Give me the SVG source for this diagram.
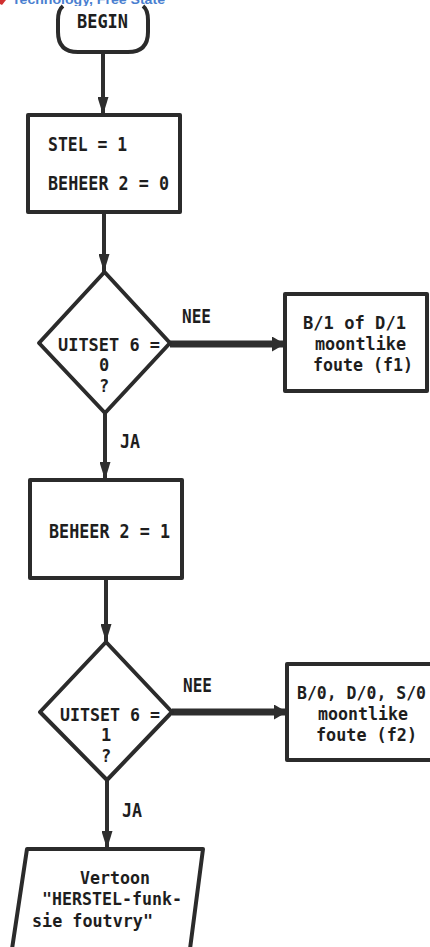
<svg xmlns="http://www.w3.org/2000/svg" width="430" height="947" viewBox="0 0 430 947">
<style>
  .shape { fill: #ffffff; stroke: #2b2b2b; stroke-width: 4; stroke-linejoin: round; }
  .conn { fill: none; stroke: #2e2e2e; stroke-width: 4; }
  .thick { fill: none; stroke: #2e2e2e; stroke-width: 7; }
  .t { font-family: "DejaVu Sans Mono", "Liberation Mono", monospace; font-weight: bold; fill: #1e1e1e; font-size: 20px; }
  .m { font-family: "DejaVu Sans Mono", "Liberation Mono", monospace; font-weight: bold; fill: #1e1e1e; font-size: 17px; }
  .s { font-family: "DejaVu Sans Mono", "Liberation Mono", monospace; font-weight: bold; fill: #1e1e1e; font-size: 19px; }
  .hdr { font-family: "Liberation Sans", Arial, sans-serif; font-weight: bold; fill: #4a7fd0; font-size: 13px; }
</style>
<defs>
  <marker id="av" markerUnits="userSpaceOnUse" markerWidth="18" markerHeight="11" refX="18" refY="5.5" orient="auto">
    <path d="M0,0 L18,5.5 L0,11 z" fill="#2e2e2e"/>
  </marker>
  <marker id="ah" markerUnits="userSpaceOnUse" markerWidth="13" markerHeight="15" refX="13" refY="7.5" orient="auto">
    <path d="M0,0 L13,7.5 L0,15 z" fill="#2e2e2e"/>
  </marker>
</defs>
<rect width="430" height="947" fill="#ffffff"/>

<g id="header">
  <path d="M0,0 L6,0 L2,5 L0,4 z" fill="#d03030"/>
  <text class="hdr" x="12" y="4" textLength="153" lengthAdjust="spacingAndGlyphs">Technology, Free State</text>
</g>

<g id="connectors">
  <line class="conn" x1="103" y1="52" x2="103" y2="115" marker-end="url(#av)"/>
  <line class="conn" x1="104" y1="212" x2="104" y2="272" marker-end="url(#av)"/>
  <line class="thick" x1="170" y1="344" x2="285" y2="344" marker-end="url(#ah)"/>
  <line class="conn" x1="105" y1="413" x2="105" y2="480" marker-end="url(#av)"/>
  <line class="conn" x1="106" y1="578" x2="106" y2="642" marker-end="url(#av)"/>
  <line class="thick" x1="172" y1="712" x2="287" y2="712" marker-end="url(#ah)"/>
  <line class="conn" x1="107" y1="780" x2="107" y2="849" marker-end="url(#av)"/>
  <text class="s" x="182" y="323" textLength="29" lengthAdjust="spacingAndGlyphs">NEE</text>
  <text class="s" x="120" y="448" textLength="20" lengthAdjust="spacingAndGlyphs">JA</text>
  <text class="s" x="183" y="692" textLength="29" lengthAdjust="spacingAndGlyphs">NEE</text>
  <text class="s" x="122" y="817" textLength="20" lengthAdjust="spacingAndGlyphs">JA</text>
</g>

<g id="begin">
  <path class="shape" d="M63,6 Q58,10 58,20 L58,32 Q58,52 78,52 L128,52 Q148,52 148,32 L148,20 Q148,10 143,6"/>
  <text class="t" x="77" y="28" textLength="51" lengthAdjust="spacingAndGlyphs">BEGIN</text>
</g>

<g id="stel">
  <rect class="shape" x="28" y="115" width="152" height="97"/>
  <text class="t" x="48" y="151" textLength="79" lengthAdjust="spacingAndGlyphs">STEL = 1</text>
  <text class="t" x="48" y="190" textLength="121" lengthAdjust="spacingAndGlyphs">BEHEER 2 = 0</text>
</g>

<g id="decision1">
  <polygon class="shape" points="104.5,272 170,343 105,413 39,343"/>
  <text class="m" x="58" y="351" textLength="102" lengthAdjust="spacingAndGlyphs">UITSET 6 =</text>
  <text class="m" x="104" y="371" text-anchor="middle">0</text>
  <text class="m" x="104" y="392" text-anchor="middle">?</text>
</g>

<g id="fault1">
  <rect class="shape" x="285" y="294" width="142" height="97"/>
  <text class="m" x="303" y="329" textLength="103" lengthAdjust="spacingAndGlyphs">B/1 of D/1</text>
  <text class="m" x="315" y="350" textLength="91" lengthAdjust="spacingAndGlyphs">moontlike</text>
  <text class="m" x="313" y="371" textLength="100" lengthAdjust="spacingAndGlyphs">foute (f1)</text>
</g>

<g id="beheer">
  <rect class="shape" x="30" y="480" width="152" height="98"/>
  <text class="t" x="49" y="538" textLength="121" lengthAdjust="spacingAndGlyphs">BEHEER 2 = 1</text>
</g>

<g id="decision2">
  <polygon class="shape" points="106,642 172,712 107,780 40,712"/>
  <text class="m" x="60" y="721" textLength="100" lengthAdjust="spacingAndGlyphs">UITSET 6 =</text>
  <text class="m" x="106" y="741" text-anchor="middle">1</text>
  <text class="m" x="106" y="762" text-anchor="middle">?</text>
</g>

<g id="fault2">
  <rect class="shape" x="287" y="664" width="150" height="96"/>
  <text class="m" x="297" y="699" textLength="129" lengthAdjust="spacingAndGlyphs">B/0, D/0, S/0</text>
  <text class="m" x="318" y="720" textLength="90" lengthAdjust="spacingAndGlyphs">moontlike</text>
  <text class="m" x="316" y="741" textLength="101" lengthAdjust="spacingAndGlyphs">foute (f2)</text>
</g>

<g id="display">
  <polygon class="shape" points="27,849 203,849 190,949 12,949"/>
  <text class="m" x="80" y="884" textLength="70" lengthAdjust="spacingAndGlyphs">Vertoon</text>
  <text class="m" x="42" y="905" textLength="140" lengthAdjust="spacingAndGlyphs">"HERSTEL-funk-</text>
  <text class="m" x="32" y="927" textLength="121" lengthAdjust="spacingAndGlyphs">sie foutvry"</text>
</g>
</svg>
